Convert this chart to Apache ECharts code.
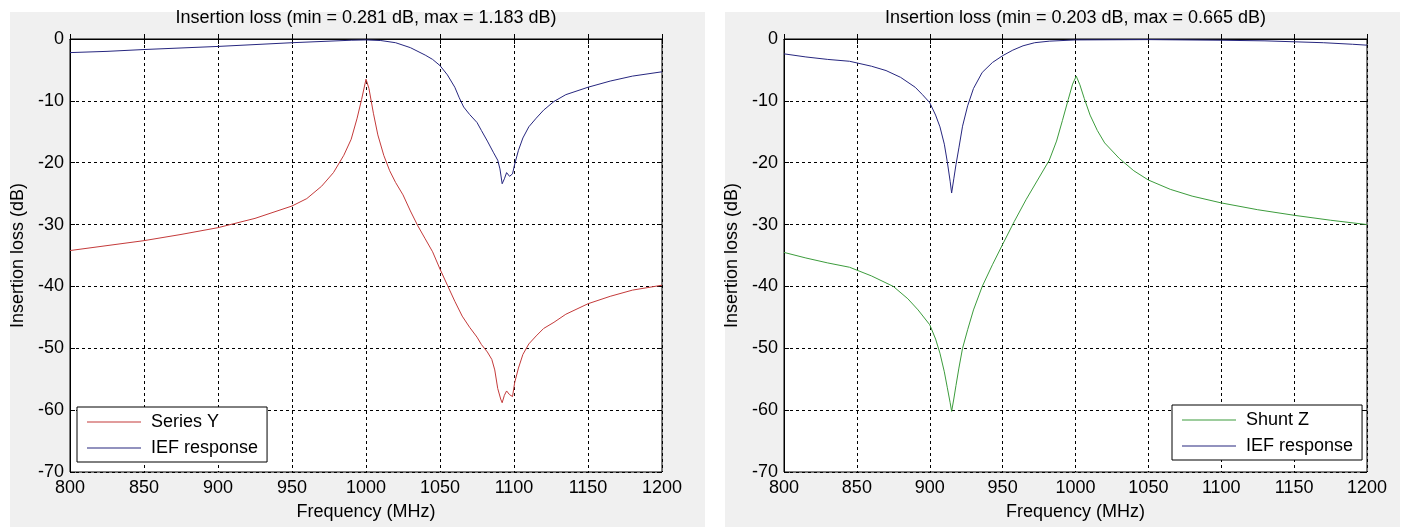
<!DOCTYPE html>
<html>
<head>
<meta charset="utf-8">
<script src="https://cdn.jsdelivr.net/npm/echarts@6/dist/echarts.min.js"></script>
<style>
  html, body { margin: 0; padding: 0; background: #fff; }
  #wrap { position: relative; width: 1406px; height: 527px; }
  .panel { position: absolute; top: 12px; height: 515px; background: #f0f0f0; }
  #c { position: absolute; left: 0; top: 0; width: 1406px; height: 527px; }
</style>
</head>
<body>
<div id="wrap">
  <div class="panel" style="left:10px;width:695px"></div>
  <div class="panel" style="left:725px;width:675px"></div>
  <div id="c"></div>
</div>
<script>
// Left panel: series element Y and the IEF response
const freqSeriesY = [800, 825, 850, 875, 900, 925, 950, 960, 970, 978, 985, 990, 994, 997, 1000, 1002, 1005, 1008, 1012, 1016, 1020, 1025, 1030, 1035, 1040, 1045, 1050, 1055, 1060, 1065, 1070, 1075, 1078, 1082, 1085, 1087, 1089, 1091, 1092, 1093.5, 1095, 1097, 1099, 1100.5, 1103, 1106, 1110, 1115, 1120, 1127, 1135, 1150, 1165, 1180, 1200];
const seriesY = [-34.2, -33.4, -32.6, -31.6, -30.5, -29.0, -27.0, -25.8, -23.8, -21.6, -18.8, -16.2, -12.8, -9.8, -6.5, -8.0, -12.0, -15.5, -18.8, -21.3, -23.2, -25.2, -27.8, -30.2, -32.3, -34.4, -37.2, -39.8, -42.4, -44.8, -46.6, -48.2, -49.4, -50.6, -51.8, -53.5, -56.5, -58.2, -58.8, -57.6, -56.9, -57.5, -57.8, -55.5, -53.2, -51.0, -49.3, -48.0, -46.8, -45.8, -44.5, -42.8, -41.6, -40.6, -39.8];

const freqIefLeft = [800, 825, 850, 875, 900, 925, 950, 975, 990, 1000, 1010, 1020, 1030, 1040, 1045, 1050, 1055, 1060, 1063, 1066, 1070, 1075, 1078, 1082, 1086, 1089, 1090.5, 1092, 1093.5, 1095, 1097, 1099, 1100.5, 1103, 1106, 1110, 1115, 1120, 1127, 1135, 1150, 1165, 1180, 1200];
const iefLeft = [-2.2, -2.0, -1.7, -1.45, -1.2, -0.9, -0.6, -0.35, -0.2, -0.15, -0.25, -0.6, -1.4, -2.6, -3.3, -4.3, -5.8, -7.8, -9.5, -11.0, -12.2, -13.5, -14.8, -16.5, -18.3, -19.6, -21.0, -23.4, -22.6, -21.6, -22.2, -21.8, -20.2, -18.0, -16.0, -14.2, -12.8, -11.5, -10.1, -9.0, -7.8, -6.8, -6.0, -5.3];

// Right panel: shunt element Z and the IEF response
const freqShuntZ = [800, 815, 830, 845, 860, 875, 885, 892, 900, 904, 907, 910, 912, 914, 915, 916.5, 918, 920, 922.5, 926, 930, 936, 943, 950, 958, 966, 974, 982, 987, 991, 995, 998, 1000.5, 1003, 1006, 1010, 1015, 1020, 1030, 1040, 1050, 1065, 1080, 1100, 1125, 1150, 1175, 1200];
const shuntZ = [-34.5, -35.4, -36.2, -36.9, -38.3, -40.0, -42.0, -43.8, -46.2, -48.5, -50.8, -53.8, -56.3, -58.8, -60.2, -58.2, -56.0, -53.2, -50.0, -47.0, -43.8, -40.0, -36.5, -33.2, -29.5, -26.0, -22.8, -19.6, -16.5, -13.2, -9.8, -7.3, -6.0, -7.4, -9.6, -12.3, -14.8, -16.8, -19.3, -21.3, -22.8, -24.3, -25.4, -26.5, -27.6, -28.5, -29.3, -30.0];

const freqIefRight = [800, 815, 830, 845, 860, 870, 880, 890, 895, 900, 904, 907, 910, 912, 914, 915, 916.5, 918, 920, 922.5, 926, 930, 936, 943, 950, 957, 964, 972, 982, 1000, 1050, 1100, 1130, 1150, 1170, 1190, 1200];
const iefRight = [-2.4, -2.9, -3.3, -3.6, -4.4, -5.1, -6.2, -7.8, -9.0, -10.3, -12.3, -14.2, -17.0, -19.8, -23.0, -24.9, -22.6, -20.3, -17.6, -14.1, -10.8, -8.0, -5.4, -3.8, -2.7, -1.8, -1.1, -0.6, -0.35, -0.15, -0.1, -0.2, -0.3, -0.45, -0.6, -0.85, -1.0];

// Axis ticks
const freqTicks = [800, 850, 900, 950, 1000, 1050, 1100, 1150, 1200];
const lossTicks = [0, -10, -20, -30, -40, -50, -60, -70];

const titleLeft = 'Insertion loss (min = 0.281 dB, max = 1.183 dB)';
const titleRight = 'Insertion loss (min = 0.203 dB, max = 0.665 dB)';

const FONT = '"Liberation Sans", Arial, sans-serif';
const FS = 18;
const RED = '#c43a3a';
const BLUE = '#26267f';
const GREEN = '#3c9c3c';

const pairs = (xs, ys) => xs.map((x, i) => [x, ys[i]]);
const plain = v => String(v);

const grids = [
  { left: 70, top: 39, width: 592, height: 433 },
  { left: 784, top: 39, width: 583, height: 433 }
];

function mainX(gi) {
  return {
    type: 'value', gridIndex: gi, position: 'bottom',
    min: freqTicks[0], max: freqTicks[freqTicks.length - 1], interval: 50,
    name: 'Frequency (MHz)', nameLocation: 'middle', nameGap: 31,
    nameTextStyle: { fontFamily: FONT, fontSize: FS, color: '#000' },
    axisLine: { show: true, lineStyle: { color: '#000', width: 1 } },
    axisTick: { show: true, inside: true, length: 5, lineStyle: { color: '#000' } },
    axisLabel: { fontFamily: FONT, fontSize: FS, color: '#000', margin: 7, formatter: plain },
    splitLine: { show: true, lineStyle: { color: '#000', type: [3, 3], width: 1 } }
  };
}
function mirrorX(gi) {
  return {
    type: 'value', gridIndex: gi, position: 'top',
    min: freqTicks[0], max: freqTicks[freqTicks.length - 1], interval: 50,
    axisLine: { show: false },
    axisTick: { show: true, inside: true, length: 5, lineStyle: { color: '#000' } },
    axisLabel: { show: false }, splitLine: { show: false }
  };
}
function mainY(gi) {
  return {
    type: 'value', gridIndex: gi, position: 'left',
    min: lossTicks[lossTicks.length - 1], max: lossTicks[0], interval: 10,
    name: 'Insertion loss (dB)', nameLocation: 'middle', nameGap: 43,
    nameTextStyle: { fontFamily: FONT, fontSize: FS, color: '#000' },
    axisLine: { show: true, lineStyle: { color: '#000', width: 1 } },
    axisTick: { show: true, inside: true, length: 5, lineStyle: { color: '#000' } },
    axisLabel: { fontFamily: FONT, fontSize: FS, color: '#000', margin: 6, formatter: plain },
    splitLine: { show: true, lineStyle: { color: '#000', type: [3, 3], width: 1 } }
  };
}
function mirrorY(gi) {
  return {
    type: 'value', gridIndex: gi, position: 'right',
    min: lossTicks[lossTicks.length - 1], max: lossTicks[0], interval: 10,
    axisLine: { show: false },
    axisTick: { show: true, inside: true, length: 5, lineStyle: { color: '#000' } },
    axisLabel: { show: false }, splitLine: { show: false }
  };
}

function line(name, data, color, xi, yi) {
  return {
    type: 'line', name, data, xAxisIndex: xi, yAxisIndex: yi,
    symbol: 'none', smooth: false, animation: false,
    lineStyle: { color, width: 1 }, itemStyle: { color }, z: 3
  };
}

// Legend entries drawn as a plain line sample next to the label
const legendBase = {
  orient: 'vertical',
  backgroundColor: '#fff', borderColor: '#000', borderWidth: 1, borderRadius: 0,
  padding: [6, 9, 5, 10], itemWidth: 54, itemHeight: 1.2, itemGap: 8,
  icon: 'rect',
  textStyle: { fontFamily: FONT, fontSize: FS, color: '#000', lineHeight: 18, padding: [0, 0, 0, 5] },
  selectedMode: false
};

const chart = echarts.init(document.getElementById('c'), null, { renderer: 'canvas' });
chart.setOption({
  animation: false,
  grid: grids.map(g => Object.assign({ show: true, backgroundColor: '#fff', borderColor: '#000', borderWidth: 1, containLabel: false }, g)),
  xAxis: [mainX(0), mirrorX(0), mainX(1), mirrorX(1)],
  yAxis: [mainY(0), mirrorY(0), mainY(1), mirrorY(1)],
  legend: [
    Object.assign({}, legendBase, { left: 77, top: 407, data: [{ name: 'Series Y' }, { name: 'IEF response' }] }),
    Object.assign({}, legendBase, { left: 1172, top: 405, data: [{ name: 'Shunt Z' }, { name: 'IEF response' }] })
  ],
  graphic: [
    { type: 'text', x: grids[0].left + grids[0].width / 2, y: 9,
      style: { text: titleLeft, textAlign: 'center', fill: '#000', font: FS + 'px ' + FONT } },
    { type: 'text', x: grids[1].left + grids[1].width / 2, y: 9,
      style: { text: titleRight, textAlign: 'center', fill: '#000', font: FS + 'px ' + FONT } }
  ],
  series: [
    line('Series Y', pairs(freqSeriesY, seriesY), RED, 0, 0),
    line('IEF response', pairs(freqIefLeft, iefLeft), BLUE, 0, 0),
    line('Shunt Z', pairs(freqShuntZ, shuntZ), GREEN, 2, 2),
    line('IEF response', pairs(freqIefRight, iefRight), BLUE, 2, 2)
  ]
});
</script>
</body>
</html>
